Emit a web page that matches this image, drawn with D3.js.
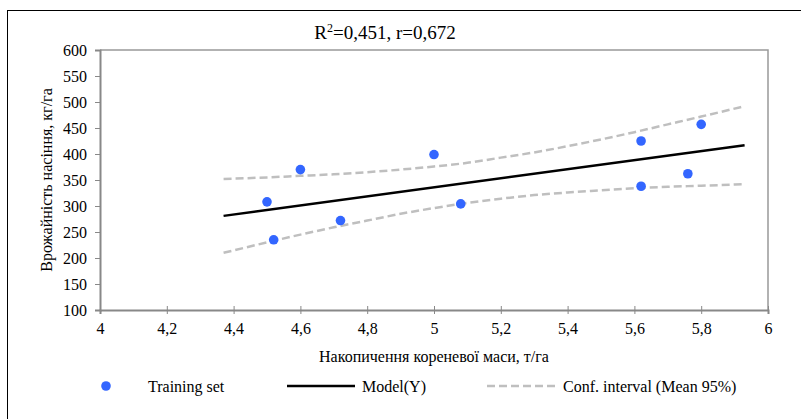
<!DOCTYPE html>
<html>
<head>
<meta charset="utf-8">
<script src="https://cdn.jsdelivr.net/npm/d3@7"></script>
<style>
  body { margin: 0; background: #fff; }
  svg text { font-family: 'Liberation Serif', 'Times New Roman', serif !important; fill: #000; }
</style>
</head>
<body>
<div id="chart"></div>
<script>
// training set points (root mass, seed yield)
var trainX = [4.5, 4.6, 4.52, 4.72, 5.0, 5.08, 5.62, 5.62, 5.76, 5.8];
var trainY = [308, 370, 235, 272, 399, 304, 425, 338, 362, 457];

// model line ends
var modelX = [4.37, 5.93];
var modelY = [281, 417];

// confidence interval (mean 95%)
var ciX     = [4.37, 4.5, 4.6, 4.7, 4.8, 4.9, 5.0, 5.1, 5.2, 5.3, 5.4, 5.5, 5.6, 5.7, 5.8, 5.93];
var ciUpper = [352, 355, 358, 361, 365, 370, 376, 383, 393, 403, 415, 428, 442, 457, 472, 492];
var ciLower = [210, 230, 245, 259, 272, 285, 296, 306, 314, 321, 326, 330, 334, 337, 339, 342];

var xTicks = [4, 4.2, 4.4, 4.6, 4.8, 5, 5.2, 5.4, 5.6, 5.8, 6];
var yTicks = [100, 150, 200, 250, 300, 350, 400, 450, 500, 550, 600];

var W = 801, H = 419;
var margin = { top: 50, right: 33, bottom: 109, left: 100 },
    width = W - margin.left - margin.right,
    height = H - margin.top - margin.bottom;

var svg = d3.select("#chart").append("svg")
  .attr("width", W)
  .attr("height", H)
  .attr("font-family", "'Liberation Serif', 'Times New Roman', serif");

// outer frame
svg.append("rect")
  .attr("x", 7.5).attr("y", 10.5)
  .attr("width", W).attr("height", H)
  .attr("fill", "none").attr("stroke", "#000").attr("stroke-width", 1);

var g = svg.append("g")
  .attr("transform", "translate(" + margin.left + "," + margin.top + ")");

var x = d3.scaleLinear().domain([4, 6]).range([0, width]);
var y = d3.scaleLinear().domain([100, 600]).range([height, 0]);

var fmt = function (d) { return String(Math.round(d * 10) / 10).replace(".", ","); };

// plot frame top / right
g.append("path")
  .attr("d", "M0,0H" + width + "V" + height)
  .attr("fill", "none").attr("stroke", "#999").attr("stroke-width", 1.5);

// X axis
var xAxis = g.append("g")
  .attr("transform", "translate(0," + height + ")")
  .call(d3.axisBottom(x).tickValues(xTicks).tickFormat(fmt).tickSize(4).tickPadding(9));
xAxis.attr("font-family", null).attr("font-size", 16);
xAxis.selectAll(".tick line").attr("y1", -4).attr("stroke", "#888");
xAxis.select(".domain").attr("stroke", "#888").attr("stroke-width", 2);

// Y axis
var yAxis = g.append("g")
  .call(d3.axisLeft(y).tickValues(yTicks).tickSize(5).tickPadding(8));
yAxis.attr("font-family", null).attr("font-size", 16);
yAxis.selectAll(".tick line").attr("stroke", "#888");
yAxis.select(".domain").attr("stroke", "#888").attr("stroke-width", 2);

// axis titles
g.append("text")
  .attr("text-anchor", "middle")
  .attr("x", width / 2)
  .attr("y", height + 52)
  .style("font-size", "16px")
  .text("Накопичення кореневої маси, т/га");

g.append("text")
  .attr("text-anchor", "middle")
  .attr("transform", "rotate(-90)")
  .attr("x", -height / 2)
  .attr("y", -48)
  .style("font-size", "16px")
  .text("Врожайність насіння, кг/га");

// title
var title = svg.append("text")
  .attr("text-anchor", "middle")
  .attr("x", 385)
  .attr("y", 39)
  .style("font-size", "19px");
title.append("tspan").text("R");
title.append("tspan").attr("dy", -7).style("font-size", "12px").text("2");
title.append("tspan").attr("dy", 7).text("=0,451, r=0,672");

// confidence interval lines
var ciLine = d3.line()
  .x(function (d) { return x(d[0]); })
  .y(function (d) { return y(d[1]); })
  .curve(d3.curveMonotoneX);

[ciUpper, ciLower].forEach(function (vals) {
  g.append("path")
    .datum(ciX.map(function (v, i) { return [v, vals[i]]; }))
    .attr("d", ciLine)
    .attr("fill", "none")
    .attr("stroke", "#bfbfbf")
    .attr("stroke-width", 2.5)
    .attr("stroke-dasharray", "8,4");
});

// model line
g.append("path")
  .datum(modelX.map(function (v, i) { return [v, modelY[i]]; }))
  .attr("d", d3.line().x(function (d) { return x(d[0]); }).y(function (d) { return y(d[1]); }))
  .attr("fill", "none")
  .attr("stroke", "#000")
  .attr("stroke-width", 2.5);

// points
g.selectAll(".pt")
  .data(trainX.map(function (v, i) { return [v, trainY[i]]; }))
  .enter()
  .append("circle")
  .attr("class", "pt")
  .attr("cx", function (d) { return x(d[0]); })
  .attr("cy", function (d) { return y(d[1]); })
  .attr("r", 4.8)
  .style("fill", "#3366ff");

// legend
var ly = 386;
svg.append("circle").attr("cx", 106).attr("cy", ly).attr("r", 4.8).style("fill", "#3366ff");
svg.append("text").attr("x", 148).attr("y", ly).attr("dy", "0.35em").style("font-size", "16px").text("Training set");

svg.append("line").attr("x1", 287).attr("x2", 355).attr("y1", ly).attr("y2", ly)
  .attr("stroke", "#000").attr("stroke-width", 2.5);
svg.append("text").attr("x", 362).attr("y", ly).attr("dy", "0.35em").style("font-size", "16px").text("Model(Y)");

svg.append("line").attr("x1", 487).attr("x2", 557).attr("y1", ly).attr("y2", ly)
  .attr("stroke", "#bfbfbf").attr("stroke-width", 2.5).attr("stroke-dasharray", "8,4");
svg.append("text").attr("x", 563).attr("y", ly).attr("dy", "0.35em").style("font-size", "16px").text("Conf. interval (Mean 95%)");
</script>
</body>
</html>
